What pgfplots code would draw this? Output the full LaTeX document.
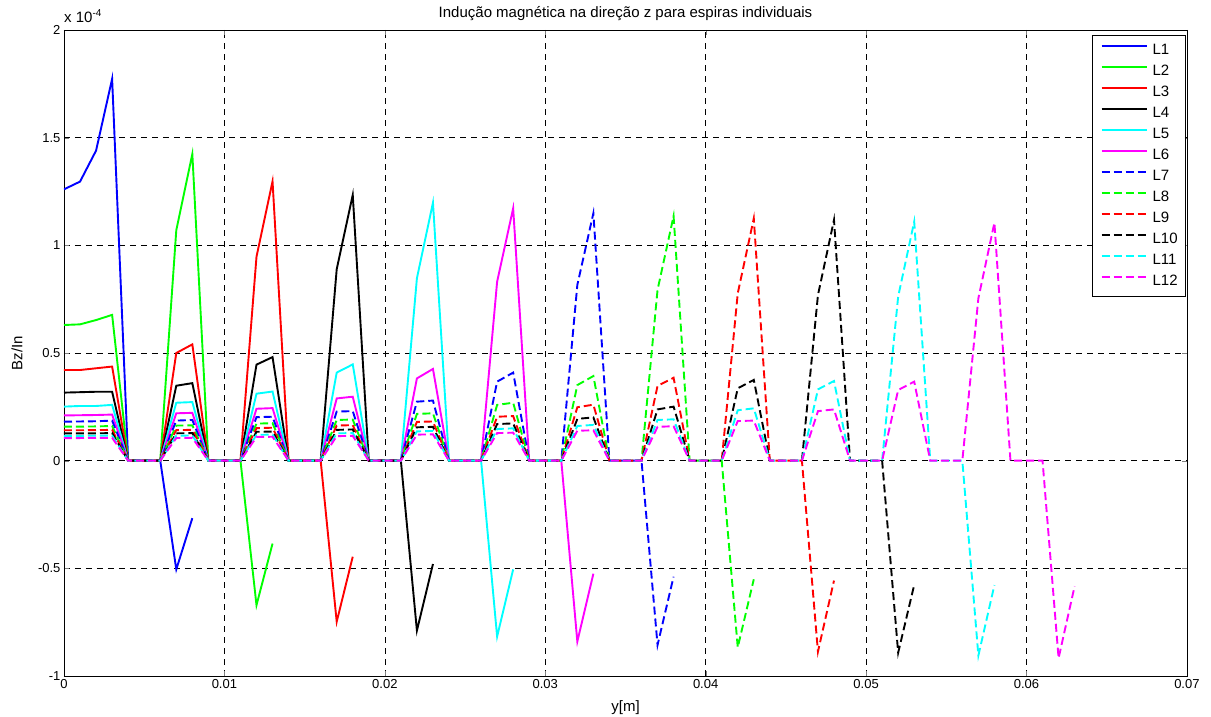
\documentclass[border=0pt]{standalone}
\usepackage{fontspec}
\setmainfont{Liberation Sans}
\usepackage{pgfplots}
\pgfplotsset{compat=1.18}
\definecolor{mblue}{rgb}{0,0,1}
\definecolor{mgreen}{rgb}{0,1,0}
\definecolor{mred}{rgb}{1,0,0}
\definecolor{mblack}{rgb}{0,0,0}
\definecolor{mcyan}{rgb}{0,1,1}
\definecolor{mmag}{rgb}{1,0,1}
\begin{document}
\begin{tikzpicture}
\begin{axis}[
  name=ax,
  at={(0pt,0pt)}, anchor=south west,
  scale only axis, width=1123pt, height=646pt,
  xmin=0, xmax=0.07, ymin=-1, ymax=2,
  scaled x ticks=false, scaled y ticks=false,
  xtick={0,0.01,0.02,0.03,0.04,0.05,0.06,0.07},
  xticklabels={0,0.01,0.02,0.03,0.04,0.05,0.06,0.07},
  ytick={-1,-0.5,0,0.5,1,1.5,2},
  yticklabels={-1,-0.5,0,0.5,1,1.5,2},
  tick label style={font=\fontsize{13}{15}\selectfont},
  tickpos=both, tick align=inside, major tick length=5pt,
  axis line style={line width=0.8pt},
  grid=major,
  major grid style={dash pattern=on 6pt off 5pt, line width=0.6pt, black},
  no markers,
  every axis plot/.append style={line width=1.9pt},
  legend cell align=left,
  legend image code/.code={\draw[#1] (0pt,4.5pt) -- (45pt,4.5pt);},
  legend style={at={(rel axis cs:1,1)}, anchor=north east, xshift=-1pt, yshift=-5pt,
    draw=black, line width=0.6pt, inner xsep=8pt, inner ysep=8pt, row sep=7pt,
    font=\fontsize{15}{17}\selectfont,
    nodes={inner sep=0pt, text height=11pt, text depth=3pt},
    /tikz/every odd column/.append style={column sep=5pt}},
]
\addplot[mblue] coordinates {(0,1.260)(0.001,1.296)(0.002,1.440)(0.003,1.773)(0.004,0)(0.005,0)(0.006,0)(0.007,-0.505)(0.008,-0.267)};
\addplot[mgreen] coordinates {(0,0.630)(0.001,0.633)(0.002,0.653)(0.003,0.677)(0.004,0)(0.005,0)(0.006,0)(0.007,1.070)(0.008,1.424)(0.009,0)(0.010,0)(0.011,0)(0.012,-0.671)(0.013,-0.385)};
\addplot[mred] coordinates {(0,0.421)(0.001,0.421)(0.002,0.429)(0.003,0.437)(0.004,0)(0.005,0)(0.006,0)(0.007,0.500)(0.008,0.540)(0.009,0)(0.010,0)(0.011,0)(0.012,0.947)(0.013,1.297)(0.014,0)(0.015,0)(0.016,0)(0.017,-0.748)(0.018,-0.446)};
\addplot[mblack] coordinates {(0,0.316)(0.001,0.318)(0.002,0.320)(0.003,0.320)(0.004,0)(0.005,0)(0.006,0)(0.007,0.348)(0.008,0.360)(0.009,0)(0.010,0)(0.011,0)(0.012,0.446)(0.013,0.481)(0.014,0)(0.015,0)(0.016,0)(0.017,0.889)(0.018,1.234)(0.019,0)(0.020,0)(0.021,0)(0.022,-0.789)(0.023,-0.480)};
\addplot[mcyan] coordinates {(0,0.251)(0.001,0.254)(0.002,0.254)(0.003,0.259)(0.004,0)(0.005,0)(0.006,0)(0.007,0.269)(0.008,0.272)(0.009,0)(0.010,0)(0.011,0)(0.012,0.311)(0.013,0.321)(0.014,0)(0.015,0)(0.016,0)(0.017,0.409)(0.018,0.447)(0.019,0)(0.020,0)(0.021,0)(0.022,0.847)(0.023,1.198)(0.024,0)(0.025,0)(0.026,0)(0.027,-0.817)(0.028,-0.505)};
\addplot[mmag] coordinates {(0,0.210)(0.001,0.211)(0.002,0.212)(0.003,0.214)(0.004,0)(0.005,0)(0.006,0)(0.007,0.220)(0.008,0.222)(0.009,0)(0.010,0)(0.011,0)(0.012,0.241)(0.013,0.244)(0.014,0)(0.015,0)(0.016,0)(0.017,0.289)(0.018,0.297)(0.019,0)(0.020,0)(0.021,0)(0.022,0.382)(0.023,0.426)(0.024,0)(0.025,0)(0.026,0)(0.027,0.831)(0.028,1.172)(0.029,0)(0.030,0)(0.031,0)(0.032,-0.840)(0.033,-0.525)};
\addplot[mblue, dash pattern=on 8pt off 4pt] coordinates {(0,0.181)(0.001,0.182)(0.002,0.183)(0.003,0.186)(0.004,0)(0.005,0)(0.006,0)(0.007,0.186)(0.008,0.189)(0.009,0)(0.010,0)(0.011,0)(0.012,0.202)(0.013,0.204)(0.014,0)(0.015,0)(0.016,0)(0.017,0.228)(0.018,0.230)(0.019,0)(0.020,0)(0.021,0)(0.022,0.274)(0.023,0.279)(0.024,0)(0.025,0)(0.026,0)(0.027,0.367)(0.028,0.409)(0.029,0)(0.030,0)(0.031,0)(0.032,0.816)(0.033,1.149)(0.034,0)(0.035,0)(0.036,0)(0.037,-0.856)(0.038,-0.539)};
\addplot[mgreen, dash pattern=on 8pt off 4pt] coordinates {(0,0.158)(0.001,0.158)(0.002,0.159)(0.003,0.161)(0.004,0)(0.005,0)(0.006,0)(0.007,0.163)(0.008,0.164)(0.009,0)(0.010,0)(0.011,0)(0.012,0.172)(0.013,0.174)(0.014,0)(0.015,0)(0.016,0)(0.017,0.189)(0.018,0.191)(0.019,0)(0.020,0)(0.021,0)(0.022,0.217)(0.023,0.220)(0.024,0)(0.025,0)(0.026,0)(0.027,0.259)(0.028,0.269)(0.029,0)(0.030,0)(0.031,0)(0.032,0.351)(0.033,0.393)(0.034,0)(0.035,0)(0.036,0)(0.037,0.793)(0.038,1.136)(0.039,0)(0.040,0)(0.041,0)(0.042,-0.867)(0.043,-0.551)};
\addplot[mred, dash pattern=on 8pt off 4pt] coordinates {(0,0.141)(0.001,0.141)(0.002,0.142)(0.003,0.143)(0.004,0)(0.005,0)(0.006,0)(0.007,0.142)(0.008,0.143)(0.009,0)(0.010,0)(0.011,0)(0.012,0.151)(0.013,0.153)(0.014,0)(0.015,0)(0.016,0)(0.017,0.163)(0.018,0.165)(0.019,0)(0.020,0)(0.021,0)(0.022,0.180)(0.023,0.182)(0.024,0)(0.025,0)(0.026,0)(0.027,0.204)(0.028,0.207)(0.029,0)(0.030,0)(0.031,0)(0.032,0.248)(0.033,0.260)(0.034,0)(0.035,0)(0.036,0)(0.037,0.347)(0.038,0.385)(0.039,0)(0.040,0)(0.041,0)(0.042,0.777)(0.043,1.125)(0.044,0)(0.045,0)(0.046,0)(0.047,-0.887)(0.048,-0.557)};
\addplot[mblack, dash pattern=on 8pt off 4pt] coordinates {(0,0.127)(0.001,0.127)(0.002,0.127)(0.003,0.128)(0.004,0)(0.005,0)(0.006,0)(0.007,0.127)(0.008,0.128)(0.009,0)(0.010,0)(0.011,0)(0.012,0.134)(0.013,0.135)(0.014,0)(0.015,0)(0.016,0)(0.017,0.143)(0.018,0.145)(0.019,0)(0.020,0)(0.021,0)(0.022,0.155)(0.023,0.157)(0.024,0)(0.025,0)(0.026,0)(0.027,0.170)(0.028,0.173)(0.029,0)(0.030,0)(0.031,0)(0.032,0.194)(0.033,0.201)(0.034,0)(0.035,0)(0.036,0)(0.037,0.238)(0.038,0.251)(0.039,0)(0.040,0)(0.041,0)(0.042,0.336)(0.043,0.375)(0.044,0)(0.045,0)(0.046,0)(0.047,0.769)(0.048,1.118)(0.049,0)(0.050,0)(0.051,0)(0.052,-0.892)(0.053,-0.577)};
\addplot[mcyan, dash pattern=on 8pt off 4pt] coordinates {(0,0.115)(0.001,0.115)(0.002,0.116)(0.003,0.116)(0.004,0)(0.005,0)(0.006,0)(0.007,0.116)(0.008,0.117)(0.009,0)(0.010,0)(0.011,0)(0.012,0.120)(0.013,0.121)(0.014,0)(0.015,0)(0.016,0)(0.017,0.127)(0.018,0.128)(0.019,0)(0.020,0)(0.021,0)(0.022,0.136)(0.023,0.138)(0.024,0)(0.025,0)(0.026,0)(0.027,0.147)(0.028,0.150)(0.029,0)(0.030,0)(0.031,0)(0.032,0.161)(0.033,0.166)(0.034,0)(0.035,0)(0.036,0)(0.037,0.189)(0.038,0.192)(0.039,0)(0.040,0)(0.041,0)(0.042,0.234)(0.043,0.243)(0.044,0)(0.045,0)(0.046,0)(0.047,0.331)(0.048,0.370)(0.049,0)(0.050,0)(0.051,0)(0.052,0.762)(0.053,1.110)(0.054,0)(0.055,0)(0.056,0)(0.057,-0.905)(0.058,-0.578)};
\addplot[mmag, dash pattern=on 8pt off 4pt] coordinates {(0,0.105)(0.001,0.105)(0.002,0.106)(0.003,0.106)(0.004,0)(0.005,0)(0.006,0)(0.007,0.105)(0.008,0.106)(0.009,0)(0.010,0)(0.011,0)(0.012,0.110)(0.013,0.111)(0.014,0)(0.015,0)(0.016,0)(0.017,0.114)(0.018,0.115)(0.019,0)(0.020,0)(0.021,0)(0.022,0.121)(0.023,0.122)(0.024,0)(0.025,0)(0.026,0)(0.027,0.128)(0.028,0.130)(0.029,0)(0.030,0)(0.031,0)(0.032,0.139)(0.033,0.141)(0.034,0)(0.035,0)(0.036,0)(0.037,0.157)(0.038,0.160)(0.039,0)(0.040,0)(0.041,0)(0.042,0.184)(0.043,0.186)(0.044,0)(0.045,0)(0.046,0)(0.047,0.230)(0.048,0.238)(0.049,0)(0.050,0)(0.051,0)(0.052,0.328)(0.053,0.367)(0.054,0)(0.055,0)(0.056,0)(0.057,0.754)(0.058,1.105)(0.059,0)(0.060,0)(0.061,0)(0.062,-0.917)(0.063,-0.583)};
\legend{L1,L2,L3,L4,L5,L6,L7,L8,L9,L10,L11,L12}
\end{axis}
\begin{scope}[shift={(ax.south west)}]
\node[anchor=base, font=\fontsize{15}{17}\selectfont] at (561.5pt,658pt) {Indução magnética na direção z para espiras individuais};
\node[anchor=base west, inner sep=0pt, font=\fontsize{15}{17}\selectfont] at (0pt,653pt) {x 10\raisebox{6pt}{\fontsize{10}{10}\selectfont -4}};
\node[anchor=base, font=\fontsize{15}{17}\selectfont] at (561.5pt,-36pt) {y[m]};
\node[rotate=90, font=\fontsize{15}{17}\selectfont] at (-47pt,323pt) {Bz/In};
\pgfresetboundingbox
\path[use as bounding box] (-64pt,-41pt) rectangle (1147pt,676pt);
\end{scope}
\end{tikzpicture}
\end{document}
